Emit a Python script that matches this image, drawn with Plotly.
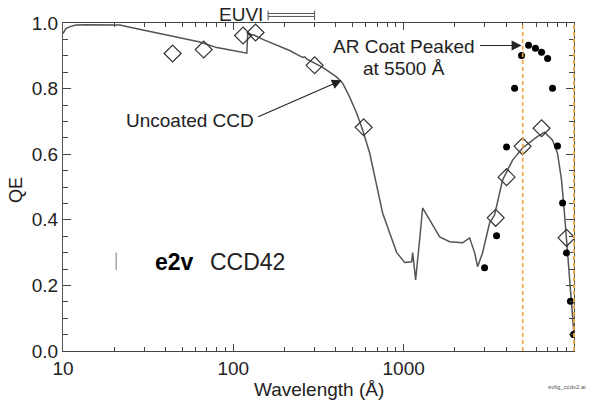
import plotly.graph_objects as go

# Uncoated CCD model curve
curve_wl = [10, 10.4, 11.0, 11.9, 13.5, 16.5, 21.6, 24.7, 32.4, 48.5, 63.6, 80.0, 99.3, 120,
            121.5, 134, 149, 180, 214, 245, 256, 262, 270, 335, 405, 439, 482, 530, 575, 632,
            677, 723, 753, 828, 910, 1014, 1114, 1130, 1175, 1241, 1292, 1421, 1627, 1862,
            2218, 2438, 2609, 2716, 2904, 3193, 3417, 3808, 4360, 4990, 6030, 6714, 7480,
            8000, 8450, 8790, 9160, 9410, 9790, 10000]
curve_qe = [0.968, 0.983, 0.989, 0.994, 0.995, 0.995, 0.994, 0.987, 0.975, 0.955, 0.942, 0.925,
            0.916, 0.908, 0.968, 0.962, 0.950, 0.932, 0.916, 0.900, 0.895, 0.897, 0.890, 0.865,
            0.835, 0.816, 0.774, 0.725, 0.673, 0.603, 0.530, 0.460, 0.420, 0.360, 0.300, 0.270,
            0.272, 0.300, 0.217, 0.339, 0.436, 0.400, 0.348, 0.333, 0.330, 0.345, 0.300, 0.257,
            0.299, 0.390, 0.415, 0.521, 0.582, 0.619, 0.652, 0.667, 0.643, 0.603, 0.521, 0.420,
            0.310, 0.217, 0.127, 0.050]

# Measured uncoated (open diamonds)
diam_wl = [44, 67, 114, 135, 300, 582, 3470, 4020, 4990, 6450, 9040]
diam_qe = [0.907, 0.919, 0.962, 0.971, 0.871, 0.682, 0.406, 0.530, 0.624, 0.679, 0.345]

# AR coated (filled circles)
dot_wl = [2985, 3510, 4020, 4480, 4920, 5410, 5940, 6450, 7000, 7480, 8000, 8570, 9040, 9530, 9930]
dot_qe = [0.254, 0.351, 0.622, 0.801, 0.901, 0.932, 0.923, 0.911, 0.892, 0.801, 0.625, 0.451,
          0.299, 0.152, 0.050]

x_tickvals = [10, 100, 1000, 10000]
x_ticktext = ["10", "100", "1000", "10000"]
x_minor_vals = [m * d for d in (10, 100, 1000) for m in range(2, 10)]

euvi_band = [160, 300]
ar_line_wl = 5000

FONT = "Liberation Sans, Arial, sans-serif"
TXT = "#222222"
ORANGE = "#f0a640"

fig = go.Figure()
fig.add_trace(go.Scatter(x=curve_wl, y=curve_qe, mode="lines",
                         line=dict(color="#555555", width=1.5), showlegend=False))
fig.add_trace(go.Scatter(x=diam_wl, y=diam_qe, mode="markers",
                         marker=dict(symbol="diamond-open", size=13, color="#333333",
                                     line=dict(width=1.2)), showlegend=False))
fig.add_trace(go.Scatter(x=dot_wl, y=dot_qe, mode="markers",
                         marker=dict(symbol="circle", size=7, color="#000000"), showlegend=False))

shapes = [
    dict(type="line", xref="x", yref="paper", x0=ar_line_wl, x1=ar_line_wl, y0=0, y1=1,
         line=dict(color=ORANGE, width=1.6, dash="4px,3px"), layer="above"),
    # right frame edge drawn dashed orange
    dict(type="line", xref="paper", yref="paper", x0=1, x1=1, y0=0, y1=1,
         line=dict(color=ORANGE, width=1.8, dash="4px,3px"), layer="above"),
]
# EUVI bracket
shapes.append(dict(type="line", xref="x", yref="paper", x0=euvi_band[0], x1=euvi_band[1],
                   y0=1.029, y1=1.029, line=dict(color="#555555", width=1)))
shapes.append(dict(type="line", xref="x", yref="paper", x0=euvi_band[0], x1=euvi_band[1],
                   y0=1.020, y1=1.020, line=dict(color="#555555", width=1)))
for wl in euvi_band:
    shapes.append(dict(type="line", xref="x", yref="paper", x0=wl, x1=wl,
                       y0=1.008, y1=1.038, line=dict(color="#555555", width=1)))
# stray mark
shapes.append(dict(type="line", xref="paper", yref="paper", x0=0.104, x1=0.104,
                   y0=0.247, y1=0.30, line=dict(color="#777777", width=1)))


def px(x):
    return (x - 63) / 511.5


def py(y):
    return (351.5 - y) / 329


def note(x, y, text, size=19, color=TXT, xanchor="center", **kw):
    d = dict(x=px(x), y=py(y), xref="paper", yref="paper", text=text, showarrow=False,
             xanchor=xanchor, yanchor="middle", font=dict(size=size, color=color))
    d.update(kw)
    return d


def arrow(hx, hy, tx, ty):
    return dict(x=px(hx), y=py(hy), xref="paper", yref="paper", text="", showarrow=True,
                ax=tx - hx, ay=ty - hy, arrowhead=2, arrowsize=1.8, arrowwidth=1.1,
                arrowcolor="#222222", standoff=0, xanchor="center", yanchor="middle")


annotations = [
    note(241, 14, "EUVI"),
    note(190, 120, "Uncoated CCD"),
    arrow(342, 80, 257, 117),
    note(404.5, 46, "AR Coat Peaked"),
    note(404.5, 68, "at 5500 Å"),
    arrow(522, 45, 479, 45),
    note(153, 262, "<b>e2v</b>", size=23, color="#000000", xanchor="left"),
    note(208, 262, "CCD42", size=23, xanchor="left"),
    note(567, 388, "svfig_ccdv2.ai", size=6, color="#555555"),
    note(16, 190, "QE", size=18, textangle=-90),
    note(319, 390, "Wavelength (Å)"),
]

fig.update_layout(
    width=592, height=402,
    margin=dict(l=63, r=17.5, t=22.5, b=50.5, autoexpand=False),
    paper_bgcolor="white", plot_bgcolor="white",
    font=dict(family=FONT, size=19, color=TXT),
    shapes=shapes, annotations=annotations, showlegend=False,
    xaxis=dict(type="log", range=[1, 4], tickvals=x_tickvals, ticktext=x_ticktext,
               ticks="inside", ticklen=7, tickwidth=1, tickcolor="#444444",
               showline=True, linecolor="#444444", linewidth=1.2, mirror="ticks",
               showgrid=False, zeroline=False, automargin=False,
               minor=dict(tickmode="array", tickvals=x_minor_vals, ticks="inside", ticklen=4,
                          tickcolor="#444444", showgrid=False),
               tickfont=dict(size=19)),
    yaxis=dict(range=[0, 1.0], dtick=0.2, tickformat=".1f",
               ticks="inside", ticklen=8, tickwidth=1, tickcolor="#444444",
               showline=True, linecolor="#555555", linewidth=1.2, mirror="ticks",
               showgrid=False, zeroline=False, automargin=False,
               minor=dict(dtick=0.05, ticks="inside", ticklen=5, tickcolor="#444444",
                          showgrid=False),
               tickfont=dict(size=19)),
)

fig.write_html("out.html", config={"displayModeBar": False},
               post_script="document.body.style.margin='0';document.body.style.overflow='hidden';")
